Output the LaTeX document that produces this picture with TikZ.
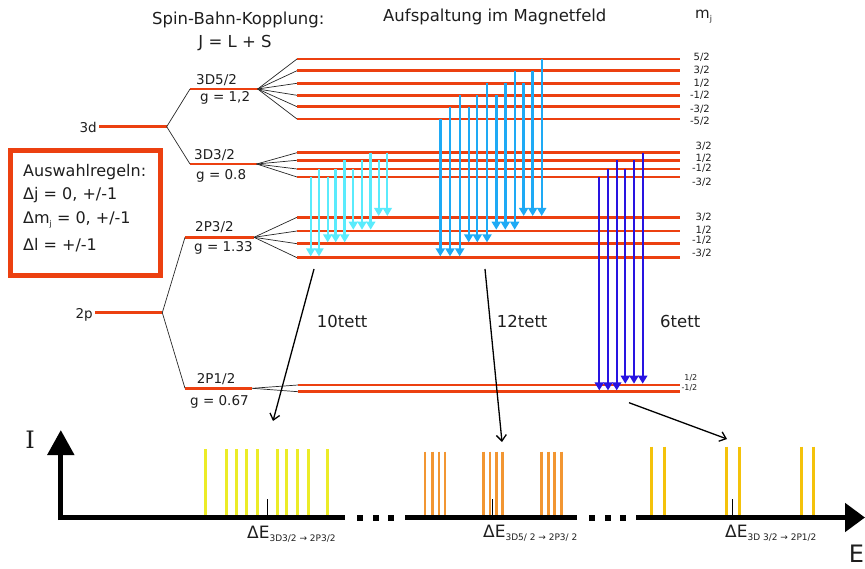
\documentclass[tikz,border=0pt]{standalone}
\usepackage{fontspec}
\setmainfont{DejaVu Sans}
\newfontfamily\serifI{DejaVu Serif}
\usetikzlibrary{arrows.meta}
\definecolor{lvl}{RGB}{236,64,16}
\definecolor{cyanA}{RGB}{90,235,252}
\definecolor{blueA}{RGB}{30,170,245}
\definecolor{blueB}{RGB}{40,20,225}
\definecolor{yel}{RGB}{236,236,40}
\definecolor{ora}{RGB}{242,150,50}
\definecolor{gld}{RGB}{244,194,10}
\definecolor{txt}{RGB}{30,30,30}
\newcommand\fs[1]{\fontsize{#1}{#1}\selectfont}
\begin{document}
\begin{tikzpicture}[x=1pt,y=-1pt,
  level/.style={draw=lvl,line width=2.7pt},
  fan/.style={draw=black!85,line width=0.7pt},
  lbl/.style={inner sep=0pt,text=txt},
  trans/.style={-{Triangle[length=8pt,width=9pt]}},
  bigarr/.style={draw=black,line width=1.3pt,-{Straight Barb[length=6pt,width=10pt]}},
  axis/.style={line width=5pt,draw=black}]
\useasboundingbox (0,0) rectangle (865,569);

% ---- titles
\node[lbl,anchor=west,font=\fs{16.5}] (t1) at (152,20) {Spin-Bahn-Kopplung:};
\node[lbl,font=\fs{16.5}] (t2) at (235,43) {J = L + S};
\node[lbl,anchor=west,font=\fs{16.5}] (t3) at (383,17) {Aufspaltung im Magnetfeld};
\node[lbl,anchor=west,font=\fs{15}] (t4) at (695,17) {m\raisebox{-3pt}{\fs{8}j}};

% ---- selection rules box
\draw[draw=lvl,line width=5pt] (10.8,150.8) rectangle (160.7,275.8);
\node[lbl,anchor=west,font=\fs{16}] (r1) at (23,172) {Auswahlregeln:};
\node[lbl,anchor=west,font=\fs{16}] (r2) at (23,195) {Δj = 0, +/-1};
\node[lbl,anchor=west,font=\fs{16}] (r3) at (23,220) {Δm\raisebox{-3pt}{\fs{8}j} = 0, +/-1};
\node[lbl,anchor=west,font=\fs{16}] (r4) at (23,245) {Δl = +/-1};

% ---- unperturbed and fine-structure levels
\draw[level] (99,126.7) -- (166.7,126.7);
\draw[level] (190,89) -- (257.7,89);
\draw[level] (190,164) -- (256.7,164);
\draw[fan] (190,89) -- (166.7,126.7) -- (190,164);
\draw[level] (95,312.7) -- (162.3,312.7);
\draw[level] (185,237.3) -- (254,237.3);
\draw[level] (185,388.3) -- (252.3,388.3);
\draw[fan] (185,237.3) -- (162.3,312.7) -- (185,388.3);

\node[lbl,anchor=east,font=\fs{13.5}] (l3d) at (97,127) {3d};
\node[lbl,anchor=east,font=\fs{13.5}] (l2p) at (93,315) {2p};
\node[lbl,anchor=base west,font=\fs{13.5}] (a1) at (196,84.5) {3D5/2};
\node[lbl,anchor=west,font=\fs{13.5}] (a2) at (200,98) {g = 1,2};
\node[lbl,anchor=base west,font=\fs{13.5}] (b1) at (194,160) {3D3/2};
\node[lbl,anchor=west,font=\fs{13.5}] (b2) at (196,176) {g = 0.8};
\node[lbl,anchor=base west,font=\fs{13.5}] (c1) at (195,231.5) {2P3/2};
\node[lbl,anchor=west,font=\fs{13.5}] (c2) at (194,248) {g = 1.33};
\node[lbl,anchor=base west,font=\fs{13.5}] (d1) at (196.7,383) {2P1/2};
\node[lbl,anchor=west,font=\fs{13.5}] (d2) at (190,401.5) {g = 0.67};

% ---- Zeeman sublevels
\foreach \y in {59,70.7,83.3,95.3,106.7,119}{
  \draw[fan] (257.7,89) -- (297,\y);
  \draw[level] (297,\y) -- (680,\y);}
\foreach \y in {152.7,160.3,169,177}{
  \draw[fan] (256.7,164) -- (297,\y);
  \draw[level] (297,\y) -- (680,\y);}
\foreach \y in {217.3,231,243.7,257.7}{
  \draw[fan] (254,237.3) -- (297,\y);
  \draw[level] (297,\y) -- (680,\y);}
\foreach \y in {385,391.7}{
  \draw[fan] (252.3,388.3) -- (298,\y);
  \draw[level] (298,\y) -- (680,\y);}

% ---- m_j labels
\foreach \t/\y in {{5/2}/57.3,{3/2}/70.7,{1/2}/83,{-1/2}/95.7,{-3/2}/109.3,{-5/2}/121}
  \node[lbl,anchor=east,font=\fs{10}] at (710,\y) {\t};
\foreach \t/\y in {{3/2}/146.7,{1/2}/158.7,{-1/2}/168.7,{-3/2}/182}
  \node[lbl,anchor=east,font=\fs{10}] at (712,\y) {\t};
\foreach \t/\y in {{3/2}/217.7,{1/2}/230.7,{-1/2}/240.7,{-3/2}/253}
  \node[lbl,anchor=east,font=\fs{10}] at (712,\y) {\t};
\foreach \t/\y in {{1/2}/377.7,{-1/2}/387.7}
  \node[lbl,anchor=east,font=\fs{8}] at (697.5,\y) {\t};

% ---- transitions 3D3/2 -> 2P3/2 (10tett)
\foreach \x/\a/\b/\w in {310.7/177/257.7/1.7, 319/169/257.7/1.7, 327.7/177/243.7/1.7,
   335.7/169/243.7/2.6, 344.7/160.3/243.7/2.6, 353.3/169/231/1.7, 362/160.3/231/2.6,
   370.7/152.7/231/2.6, 378.7/160.3/217.3/1.7, 387.3/152.7/217.3/1.7}
  \draw[trans,draw=cyanA,fill=cyanA,line width=\w pt] (\x,\a) -- (\x,{\b-1.3});

% ---- transitions 3D5/2 -> 2P3/2 (12tett)
\foreach \x/\a/\b/\w in {440.3/119/257.7/3, 450/106.7/257.7/2.2, 459.7/95.3/257.7/2.2,
   468.7/106.7/243.7/1.8, 477.3/95.3/243.7/1.8, 487/83.3/243.7/1.8,
   496.3/95.3/231/2.8, 505.3/83.3/231/2.8, 514.7/70.7/231/1.8,
   523.7/83.3/217.3/2.8, 532.7/70.7/217.3/2.8, 541.7/59/217.3/1.8}
  \draw[trans,draw=blueA,fill=blueA,line width=\w pt] (\x,\a) -- (\x,{\b-1.3});

% ---- transitions 3D3/2 -> 2P1/2 (6tett)
\foreach \x/\a/\b in {599.3/177/391.7, 608/169/391.7, 616.7/160.3/391.7,
   625.3/169/385, 634/160.3/385, 642.7/152.7/385}
  \draw[trans,draw=blueB,fill=blueB,line width=2.2pt] (\x,\a) -- (\x,{\b-1.3});

\node[lbl,anchor=west,font=\fs{16.5}] (m10) at (316.7,321.7) {10tett};
\node[lbl,anchor=west,font=\fs{16.5}] (m12) at (496.7,321.7) {12tett};
\node[lbl,anchor=west,font=\fs{16.5}] (m6) at (660,321.7) {6tett};

% ---- arrows to the spectrum
\coordinate (s1) at (314,269);  \coordinate (e1) at (273,421);
\coordinate (s2) at (485,269);  \coordinate (e2) at (502,442);
\coordinate (s3) at (629,402.7); \coordinate (e3) at (727,439);
\draw[bigarr] (s1) -- (e1);
\draw[bigarr] (s2) -- (e2);
\draw[bigarr] (s3) -- (e3);

% ---- spectrum lines
\foreach \x/\w in {205.7/2.5,226.7/2.5,236.7/2.5,246.7/2.5,257.3/3.5,277.7/2.5,286.7/2.5,297.3/3,308.3/3.5,327.7/2.5}
  \draw[draw=yel,line width=\w pt] (\x,449.3) -- (\x,517);
\foreach \x/\w in {425/2.5,432.5/2.5,438.8/2.5,445/2.5,483.3/2.5,490/2.5,496.7/2.5,502.7/3.5,541.7/2.5,548.3/2.5,554.3/2.5,561.7/2.5}
  \draw[draw=ora,line width=\w pt] (\x,451.7) -- (\x,517);
\foreach \x in {651.7,664.3,726.7,739.3,801.7,813.3}
  \draw[draw=gld,line width=3.5pt] (\x,446.7) -- (\x,517);

% ---- ticks
\foreach \x in {267.3,492.7,732.7}
  \draw[black,line width=0.9pt] (\x,499) -- (\x,516);

% ---- axes
\draw[axis,-{Triangle[length=25pt,width=26pt]}] (60.8,520) -- (60.8,430);
\draw[axis] (58.3,517.5) -- (345,517.5);
\draw[axis] (405,517.5) -- (577,517.5);
\draw[axis,-{Triangle[length=20pt,width=28pt]}] (636,517.5) -- (865,517.5);
\foreach \x in {357,373,388,589,605,620}
  \fill[black] (\x,515) rectangle ++(5.5,5.5);

\node[lbl,font=\fs{24}\serifI] (I) at (30,440) {I};
\node[lbl,font=\fs{24}] (E) at (856.5,554) {E};

\node[lbl,anchor=base west] (dE1) at (247,538) {\fs{17}ΔE\fs{9}\raisebox{-3.5pt}{3D3/2 → 2P3/2}};
\node[lbl,anchor=base west] (dE2) at (483,537) {\fs{17}ΔE\fs{9}\raisebox{-3.5pt}{3D5/ 2 → 2P3/ 2}};
\node[lbl,anchor=base west] (dE3) at (725,537) {\fs{17}ΔE\fs{9}\raisebox{-3.5pt}{3D 3/2 → 2P1/2}};
\end{tikzpicture}
\end{document}
